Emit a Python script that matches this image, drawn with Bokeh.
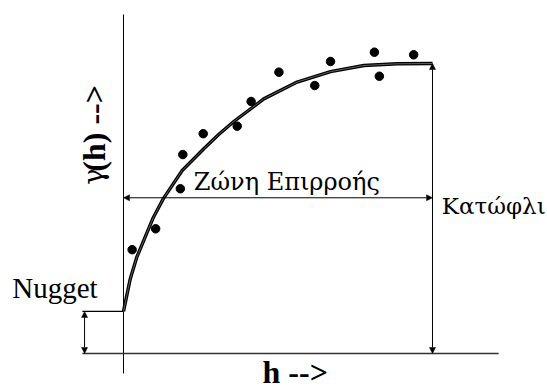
import math
from bokeh.plotting import figure
from bokeh.models import Range1d, Arrow, NormalHead
from bokeh.core.properties import value
from bokeh.embed import file_html
from bokeh.resources import INLINE

# ---- data (h in units where range = 10, gamma in units where sill = 10) ----
pts_h = [0.28, 1.04, 1.84, 1.92, 2.58, 3.68, 4.13, 5.03, 6.19, 6.70, 8.12, 8.28, 9.39]
pts_g = [3.58, 4.30, 5.68, 6.86, 7.58, 7.84, 8.69, 9.70, 9.24, 10.07, 10.39, 9.56, 10.30]

curve_h = [0.00, 0.22, 0.43, 0.70, 0.97, 1.29, 1.90, 2.60, 3.08, 3.57, 4.54, 5.62, 6.70, 7.78, 8.86, 10.0]
curve_g = [1.45, 2.58, 3.32, 4.01, 4.70, 5.34, 6.31, 7.06, 7.55, 8.00, 8.78, 9.36, 9.72, 9.93, 9.99, 10.0]

NUGGET = 1.45
SILL = 10.0
RANGE = 10.0
ZONE_LEVEL = 5.37
AXIS_TOP = 11.69
AXIS_BOTTOM = -0.69
BASE_LEFT = -1.33
BASE_RIGHT = 12.14
NUGGET_ARROW_H = -1.26

label_zone = "Ζώνη Επιρροής"
label_sill = "Κατώφλι"
label_nugget = "Nugget"
label_x = "h -->"
label_y_gamma = "γ"
label_y_rest = "(h) -->"

p = figure(width=547, height=390, output_backend="svg", toolbar_location=None,
           x_range=Range1d(-3.9806, 13.7217), y_range=Range1d(-1.2759, 12.1724),
           x_axis_location=None, y_axis_location=None, min_border=0)
p.outline_line_color = None
p.xgrid.visible = False
p.ygrid.visible = False
p.background_fill_color = "white"
p.border_fill_color = "white"

# axes-like lines
p.line([0, 0], [AXIS_BOTTOM, AXIS_TOP], line_color="black", line_width=1)
p.line([BASE_LEFT, BASE_RIGHT], [0, 0], line_color="#333333", line_width=1.3)
p.line([BASE_LEFT, 0], [NUGGET, NUGGET], line_color="black", line_width=1.2)

def dbl_arrow(x0, y0, x1, y1):
    p.add_layout(Arrow(x_start=x0, y_start=y0, x_end=x1, y_end=y1,
                       line_color="black", line_width=1,
                       start=NormalHead(size=6, fill_color="black", line_color="black", line_width=0.5),
                       end=NormalHead(size=6, fill_color="black", line_color="black", line_width=0.5)))

dbl_arrow(NUGGET_ARROW_H, 0, NUGGET_ARROW_H, NUGGET)
dbl_arrow(RANGE, 0, RANGE, SILL)
dbl_arrow(0, ZONE_LEVEL, RANGE, ZONE_LEVEL)

# model curve (double-stroke look)
p.line(curve_h, curve_g, line_color="black", line_width=3.4)
p.line(curve_h, curve_g, line_color="#777777", line_width=0.8)

# experimental points
p.scatter(pts_h, pts_g, size=8.5, color="black")

serif = value("Liberation Serif")
greek_serif = value("DejaVu Serif")
p.text([2.275], [5.90], text=[label_zone], text_font=greek_serif, text_font_size=value("24px"),
       text_baseline="alphabetic", text_align="left", text_color="black")
p.text([10.3], [5.08], text=[label_sill], text_font=greek_serif, text_font_size=value("23px"),
       text_baseline="alphabetic", text_align="left", text_color="black")
p.text([-3.60], [2.25], text=[label_nugget], text_font=serif, text_font_size=value("29px"),
       text_baseline="alphabetic", text_align="left", text_color="black")
p.text([4.50], [-0.64], text=[label_x], text_font=serif, text_font_size=value("32px"),
       text_font_style="bold", text_baseline="alphabetic", text_align="left", text_color="black")
p.text([-0.97], [5.82], text=[label_y_gamma], text_font=greek_serif, text_font_size=value("27px"),
       angle=math.pi / 2, text_baseline="alphabetic", text_align="left", text_color="black")
p.text([-0.97], [6.27], text=[label_y_rest], text_font=serif, text_font_size=value("32px"),
       text_font_style="bold", angle=math.pi / 2, text_baseline="alphabetic", text_align="left",
       text_color="black")

open("out.html", "w").write(file_html(p, INLINE))
